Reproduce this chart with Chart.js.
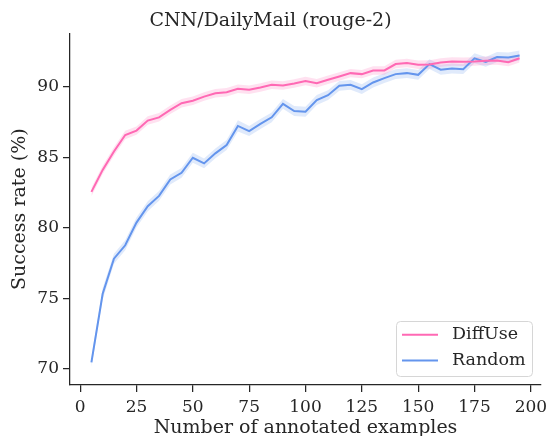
<!DOCTYPE html>
<html>
<head>
<meta charset="utf-8">
<script src="https://cdn.jsdelivr.net/npm/chart.js@4/dist/chart.umd.min.js"></script>
<style>
  html, body { margin: 0; padding: 0; background: #fff; }
  #wrap { width: 548px; height: 436px; }
</style>
</head>
<body>
<div id="wrap"><canvas id="chart" width="548" height="436"></canvas></div>
<script>
// Data
const examples = [5, 10, 15, 20, 25, 30, 35, 40, 45, 50, 55, 60, 65, 70, 75, 80, 85, 90, 95, 100,
  105, 110, 115, 120, 125, 130, 135, 140, 145, 150, 155, 160, 165, 170, 175, 180, 185, 190, 195];

const diffUse = [82.54, 84.1, 85.4, 86.57, 86.88, 87.59, 87.82, 88.35, 88.82, 89.0,
  89.29, 89.53, 89.6, 89.84, 89.77, 89.93, 90.12, 90.07, 90.22, 90.4,
  90.24, 90.48, 90.71, 90.95, 90.88, 91.14, 91.14, 91.59, 91.66, 91.54,
  91.56, 91.7, 91.78, 91.75, 91.78, 91.83, 91.85, 91.73, 92.0];

const random = [70.47, 75.33, 77.81, 78.76, 80.37, 81.53, 82.26, 83.42, 83.89, 84.96,
  84.56, 85.27, 85.86, 87.21, 86.85, 87.35, 87.82, 88.77, 88.27, 88.22,
  89.05, 89.39, 90.05, 90.12, 89.82, 90.29, 90.6, 90.88, 90.95, 90.83,
  91.59, 91.19, 91.28, 91.23, 92.0, 91.75, 92.09, 92.06, 92.2];

// half width of the shaded band around each line
const diffUseBand = [0.3, 0.3, 0.3, 0.3, 0.3, 0.3, 0.3, 0.3, 0.3, 0.3,
  0.3, 0.3, 0.3, 0.3, 0.3, 0.3, 0.3, 0.3, 0.3, 0.3,
  0.3, 0.3, 0.3, 0.3, 0.3, 0.3, 0.3, 0.3, 0.3, 0.3,
  0.3, 0.3, 0.3, 0.3, 0.3, 0.3, 0.3, 0.3, 0.3];
const randomBand = [0.35, 0.4, 0.35, 0.35, 0.35, 0.35, 0.35, 0.35, 0.35, 0.35,
  0.35, 0.35, 0.35, 0.4, 0.35, 0.35, 0.35, 0.35, 0.35, 0.35,
  0.35, 0.35, 0.35, 0.35, 0.35, 0.35, 0.35, 0.35, 0.35, 0.35,
  0.35, 0.35, 0.35, 0.35, 0.35, 0.35, 0.35, 0.35, 0.35];

const xTicks = [0, 25, 50, 75, 100, 125, 150, 175, 200];
const yTicks = [70, 75, 80, 85, 90];

const pink = "#ff69b4";
const blue = "#6495ed";
const textColor = "#262626";
const font = "'DejaVu Serif', serif";

function pts(vals, band, sign) {
  return examples.map((x, i) => ({ x: x, y: vals[i] + sign * (band ? band[i] : 0) }));
}

// legend drawn inside the plot, lower right
const innerLegend = {
  id: "innerLegend",
  afterDraw(chart) {
    const ctx = chart.ctx;
    const items = chart.data.datasets.filter(d => d.showInLegend);
    const area = chart.chartArea;
    const w = 136, h = 55;
    const x0 = area.right - 9 - w, y0 = area.bottom - 9 - h;
    ctx.save();
    ctx.beginPath();
    ctx.roundRect(x0 + 0.5, y0 + 0.5, w, h, 4);
    ctx.fillStyle = "rgba(255,255,255,0.8)";
    ctx.fill();
    ctx.strokeStyle = "#d6d6d6";
    ctx.lineWidth = 1;
    ctx.stroke();
    ctx.font = "17.5px " + font;
    ctx.textBaseline = "middle";
    items.forEach((d, i) => {
      const yy = y0 + 13.8 + i * 25.7;
      ctx.strokeStyle = d.borderColor;
      ctx.lineWidth = 2;
      ctx.beginPath();
      ctx.moveTo(x0 + 6, yy);
      ctx.lineTo(x0 + 42, yy);
      ctx.stroke();
      ctx.fillStyle = textColor;
      ctx.fillText(d.label, x0 + 56, yy);
    });
    ctx.restore();
  }
};

new Chart(document.getElementById("chart"), {
  type: "line",
  data: {
    datasets: [
      { label: "DiffUse", data: pts(diffUse, null, 0), borderColor: pink, borderWidth: 2,
        pointRadius: 0, tension: 0, fill: false, order: 0, showInLegend: true },
      { label: "Random", data: pts(random, null, 0), borderColor: blue, borderWidth: 2,
        pointRadius: 0, tension: 0, fill: false, order: 0, showInLegend: true },
      { label: "du_hi", data: pts(diffUse, diffUseBand, 1), borderWidth: 0, pointRadius: 0,
        fill: "+1", backgroundColor: "rgba(255,105,180,0.2)", order: 2 },
      { label: "du_lo", data: pts(diffUse, diffUseBand, -1), borderWidth: 0, pointRadius: 0,
        fill: false, order: 2 },
      { label: "rd_hi", data: pts(random, randomBand, 1), borderWidth: 0, pointRadius: 0,
        fill: "+1", backgroundColor: "rgba(100,149,237,0.2)", order: 2 },
      { label: "rd_lo", data: pts(random, randomBand, -1), borderWidth: 0, pointRadius: 0,
        fill: false, order: 2 }
    ]
  },
  options: {
    responsive: false,
    animation: false,
    layout: { padding: { left: 0, right: 7, top: 0, bottom: 0 } },
    plugins: {
      legend: { display: false },
      tooltip: { enabled: false },
      title: {
        display: true,
        text: "CNN/DailyMail (rouge-2)",
        color: textColor,
        font: { family: font, size: 19, weight: "normal", lineHeight: 1.2 },
        padding: { top: 10, bottom: 0.5 }
      }
    },
    scales: {
      x: {
        type: "linear",
        min: -4.5,
        max: 204.5,
        afterBuildTicks: s => { s.ticks = xTicks.map(v => ({ value: v })); },
        afterFit: s => { s.height = 51; s.paddingLeft = 0; s.paddingRight = 0; },
        grid: { display: true, drawOnChartArea: false, drawTicks: true, tickLength: 7,
          color: textColor, lineWidth: 1.25 },
        border: { display: true, color: textColor, width: 1.25 },
        ticks: { color: textColor, font: { family: font, size: 17 }, padding: 5, maxRotation: 0 },
        title: { display: true, text: "Number of annotated examples", color: textColor,
          font: { family: font, size: 19 }, padding: { top: 0, bottom: -3 } }
      },
      y: {
        min: 68.87,
        max: 93.77,
        afterBuildTicks: s => { s.ticks = yTicks.map(v => ({ value: v })); },
        afterFit: s => { s.width = 70; s.paddingTop = 0; s.paddingBottom = 0; },
        grid: { display: true, drawOnChartArea: false, drawTicks: true, tickLength: 7,
          color: textColor, lineWidth: 1.25 },
        border: { display: true, color: textColor, width: 1.25 },
        ticks: { color: textColor, font: { family: font, size: 17 }, padding: 4 },
        title: { display: true, text: "Success rate (%)", color: textColor,
          font: { family: font, size: 19 }, padding: { top: 8.5, bottom: 0 } }
      }
    }
  },
  plugins: [innerLegend]
});
</script>
</body>
</html>
